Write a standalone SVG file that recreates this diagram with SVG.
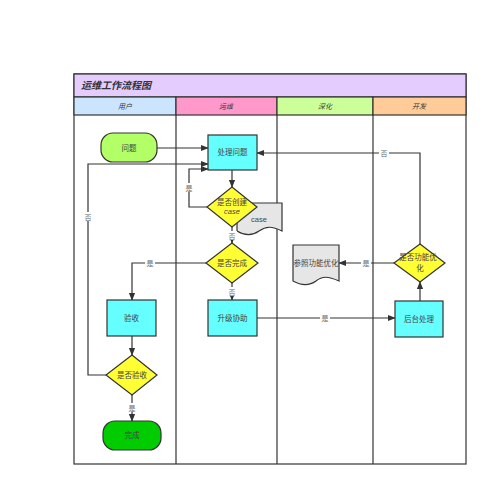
<svg xmlns="http://www.w3.org/2000/svg" width="501" height="500" viewBox="0 0 501 500">
<style>
.lane{fill:#fff;stroke:#333;stroke-width:1.2}
.hdr{stroke:#333;stroke-width:1.2}
.ht{font-family:"Liberation Sans","Noto Sans CJK SC",sans-serif;font-size:7px;font-style:italic;fill:#333;text-anchor:middle}
.ttl{font-family:"Liberation Sans","Noto Sans CJK SC",sans-serif;font-size:10px;font-style:italic;font-weight:bold;fill:#333}
.nt{font-family:"Liberation Sans","Noto Sans CJK SC",sans-serif;font-size:7.5px;fill:#444;text-anchor:middle}
.lb{font-family:"Liberation Sans","Noto Sans CJK SC",sans-serif;font-size:7px;fill:#666;text-anchor:middle}
.lbg{fill:#fff}
.ns{stroke:#333;stroke-width:1.2}
.proc{fill:#66FFFF}
.dec{fill:#FFFF33}
.doc{fill:#E6E6E6}
.cn{fill:none;stroke:#333;stroke-width:1.2}
</style>
<defs>
<marker id="ah" viewBox="0 0 10 10" refX="9" refY="5" markerWidth="8" markerHeight="8" markerUnits="userSpaceOnUse" orient="auto">
<path d="M0,1 L10,5 L0,9 Z" fill="#333"/>
</marker>
</defs>
<rect width="501" height="500" fill="#fff"/>
<g id="pool">
<rect x="74" y="74" width="392" height="390" class="lane"/>
<rect x="74" y="74" width="392" height="23" fill="#E5CCFF" class="hdr"/>
<text x="81" y="89" class="ttl">运维工作流程图</text>
<rect x="74" y="97" width="102" height="18" fill="#CCE5FF" class="hdr"/>
<rect x="176" y="97" width="101" height="18" fill="#FF99CC" class="hdr"/>
<rect x="277" y="97" width="96" height="18" fill="#CCFF99" class="hdr"/>
<rect x="373" y="97" width="93" height="18" fill="#FFCC99" class="hdr"/>
<text x="125" y="109" class="ht">用户</text>
<text x="226" y="109" class="ht">运维</text>
<text x="325" y="109" class="ht">深化</text>
<text x="419" y="109" class="ht">开发</text>
<line x1="176" y1="115" x2="176" y2="464" class="hdr"/>
<line x1="277" y1="115" x2="277" y2="464" class="hdr"/>
<line x1="373" y1="115" x2="373" y2="464" class="hdr"/>
</g>
<g id="case">
<path d="M237,203 H282 V231 C272,226 266,226 259,231 C252,236 245,236 237,231 Z" class="doc ns"/>
<text x="259" y="222" class="nt">case</text>
</g>
<g id="ref">
<path d="M293,245 H339 V281 C328,276 322,276 316,281 C309,286 302,286 293,281 Z" class="doc ns"/>
<text x="316" y="266" class="nt">参照功能优化</text>
</g>
<g id="connectors">
<line x1="157" y1="148" x2="208" y2="148" class="cn" marker-end="url(#ah)"/>
<polyline points="106,375 88,375 88,164 208,164" class="cn" marker-end="url(#ah)"/>
<polyline points="420,244 420,153 257,153" class="cn" marker-end="url(#ah)"/>
<line x1="232" y1="170" x2="232" y2="187" class="cn" marker-end="url(#ah)"/>
<polyline points="207,207 189,207 189,169 208,169" class="cn" marker-end="url(#ah)"/>
<line x1="232" y1="227" x2="232" y2="243" class="cn" marker-end="url(#ah)"/>
<polyline points="207,263 132,263 132,300" class="cn" marker-end="url(#ah)"/>
<line x1="232" y1="283" x2="232" y2="300" class="cn" marker-end="url(#ah)"/>
<line x1="132" y1="336" x2="132" y2="355" class="cn" marker-end="url(#ah)"/>
<line x1="132" y1="395" x2="132" y2="421" class="cn" marker-end="url(#ah)"/>
<line x1="257" y1="318" x2="395" y2="318" class="cn" marker-end="url(#ah)"/>
<line x1="420" y1="301" x2="420" y2="282" class="cn" marker-end="url(#ah)"/>
<line x1="394" y1="263" x2="339" y2="263" class="cn" marker-end="url(#ah)"/>
<rect x="379" y="148" width="10" height="9" class="lbg"/>
<text x="384" y="156" class="lb">否</text>
<rect x="184" y="183" width="10" height="9" class="lbg"/>
<text x="189" y="191" class="lb">是</text>
<rect x="227" y="231" width="10" height="9" class="lbg"/>
<text x="232" y="239" class="lb">否</text>
<rect x="145" y="258" width="10" height="9" class="lbg"/>
<text x="150" y="266" class="lb">是</text>
<rect x="227" y="287" width="10" height="9" class="lbg"/>
<text x="232" y="295" class="lb">否</text>
<rect x="83" y="212" width="10" height="9" class="lbg"/>
<text x="88" y="220" class="lb">否</text>
<rect x="127" y="403" width="10" height="9" class="lbg"/>
<text x="132" y="411" class="lb">是</text>
<rect x="320" y="313" width="10" height="9" class="lbg"/>
<text x="325" y="321" class="lb">是</text>
<rect x="361" y="258" width="10" height="9" class="lbg"/>
<text x="366" y="266" class="lb">是</text>
</g>
<g id="wenti">
<rect x="101" y="133" width="56" height="29" rx="12" fill="#B3FF66" class="ns"/>
<text x="129" y="151" class="nt">问题</text>
</g>
<g id="chuli">
<rect x="208" y="135" width="49" height="35" class="proc ns"/>
<text x="232.5" y="155" class="nt">处理问题</text>
</g>
<g id="chuangjian">
<polygon points="232,187 257,207 232,227 207,207" class="dec ns"/>
<text x="232" y="205" class="nt">是否创建</text>
<text x="232" y="214" class="nt" font-style="italic" font-size="7" fill="#777">case</text>
</g>
<g id="wancheng_q">
<polygon points="232,243 258,263 232,283 206,263" class="dec ns"/>
<text x="232" y="266" class="nt">是否完成</text>
</g>
<g id="shengji">
<rect x="208" y="300" width="49" height="36" class="proc ns"/>
<text x="232.5" y="321" class="nt">升级协助</text>
</g>
<g id="yanshou">
<rect x="107" y="300" width="49" height="36" class="proc ns"/>
<text x="131.5" y="321" class="nt">验收</text>
</g>
<g id="yanshou_q">
<polygon points="132,355 157,375 132,395 106,375" class="dec ns"/>
<text x="132" y="378" class="nt">是否验收</text>
</g>
<g id="done">
<rect x="103" y="421" width="58" height="29" rx="12" fill="#00CC00" class="ns"/>
<text x="132" y="438" class="nt">完成</text>
</g>
<g id="houtai">
<rect x="395" y="301" width="48" height="36" class="proc ns"/>
<text x="419" y="322" class="nt">后台处理</text>
</g>
<g id="youhua_q">
<polygon points="420,244 445,263 420,282 394,263" class="dec ns"/>
<text x="418" y="260" class="nt">是否功能优</text>
<text x="420" y="271" class="nt">化</text>
</g>
</svg>
